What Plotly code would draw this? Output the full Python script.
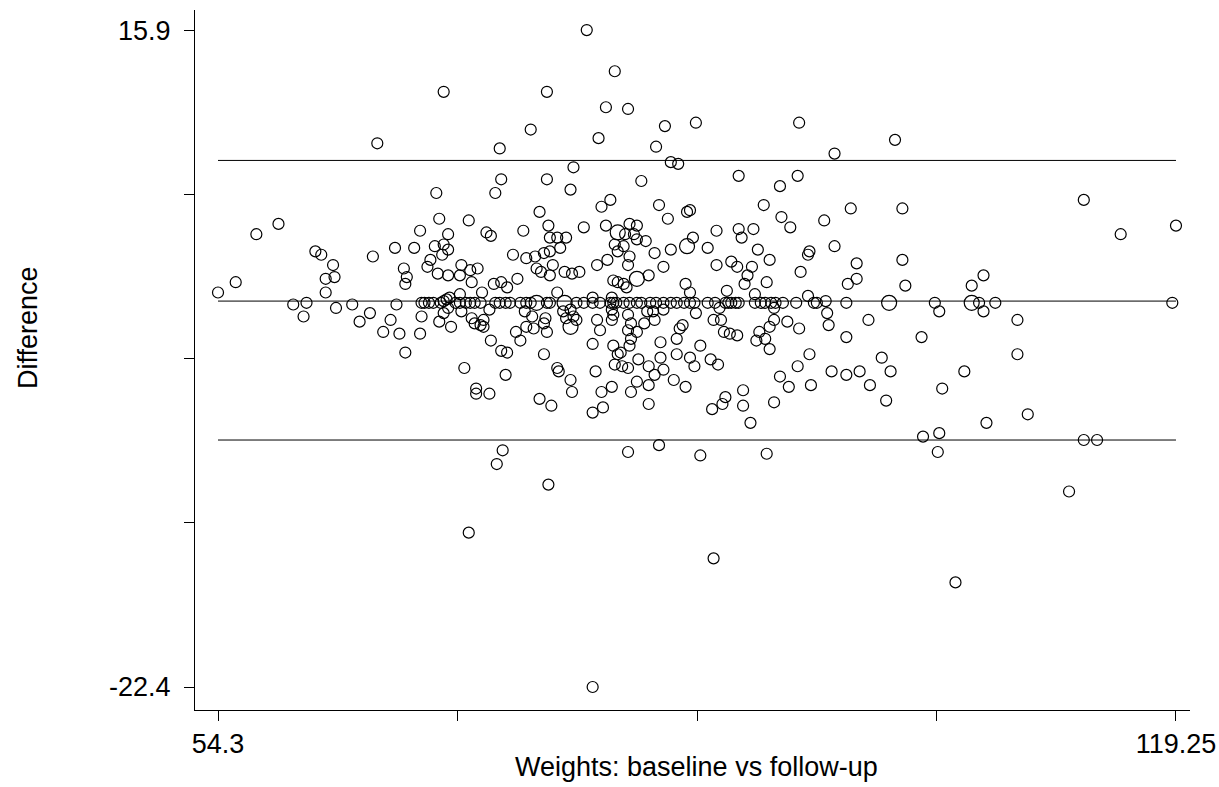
import plotly.graph_objects as go

# ---- Data (mean weight, difference) ----
left_x = [54.3, 55.5, 56.9, 58.4, 59.4, 60.3, 60.1, 60.9, 61.3, 62.1,
          61.6, 62.2, 61.6, 62.3, 63.4, 63.9, 64.6, 64.8, 65.1, 66.3,
          67.6, 66.9, 67.1, 67.0, 66.4, 66.0, 65.5, 66.6, 68.0, 67.0,
          68.1, 68.1, 68.3, 68.6, 68.9, 69.4, 69.6, 69.8, 70.0, 69.3,
          69.6, 69.9, 70.1, 68.7, 68.5, 69.2, 69.9, 69.0, 69.6, 69.9,
          69.5, 69.6, 69.1, 69.3, 68.0, 69.9]
left_y = [0.6, 1.2, 4.0, 4.6, -0.1, 0.0, -0.8, 3.0, 2.8, 2.2,
          1.4, 1.5, 0.6, -0.3, -0.1, -1.1, -0.6, 2.7, 9.3, 3.2,
          3.2, 2.0, 1.5, 1.1, -0.1, -1.0, -1.7, -1.8, -1.8, -2.9,
          -0.8, 0.0, 0.0, 0.0, 0.0, 0.0, 0.1, 0.2, 0.3, -1.1,
          -0.6, -0.3, -1.4, 2.5, 2.1, 1.7, 1.6, 3.3, 3.4, 3.1,
          2.8, 12.3, 6.4, 4.9, 4.2, 4.0]

top_mid_x = [79.3, 81.2, 76.6, 80.6, 82.1, 75.5, 80.1, 84.6, 86.7, 84.0,
             73.4, 85.0, 85.5, 78.4, 73.5, 76.6, 73.1, 78.2, 83.0, 80.9,
             80.3, 84.2, 84.8, 86.1, 86.3, 76.1, 71.3, 76.7, 75.0, 72.5,
             72.8, 79.1, 80.6, 82.2, 82.7, 81.9, 82.5, 76.8, 77.3, 77.9,
             82.7, 83.3, 86.5, 85.0]
top_mid_y = [15.9, 13.5, 12.3, 11.4, 11.3, 10.1, 9.6, 10.3, 10.5, 9.1,
             9.0, 8.2, 8.1, 7.9, 7.2, 7.2, 6.4, 6.6, 7.1, 6.0,
             5.6, 5.7, 4.9, 5.3, 5.4, 5.3, 4.8, 4.5, 4.2, 4.1,
             3.9, 4.4, 4.5, 4.6, 4.5, 4.0, 4.0, 3.8, 3.8, 3.8,
             3.7, 3.6, 3.8, 3.1]

top_right_x = [93.7, 100.2, 96.1, 89.6, 93.6, 92.4, 91.3, 97.2, 100.7, 92.5,
               95.4, 93.1, 88.1, 89.6, 90.6, 89.8, 87.5, 90.9, 96.1]
top_right_y = [10.5, 9.5, 8.7, 7.4, 7.4, 6.8, 5.7, 5.5, 5.5, 5.0,
               4.8, 4.4, 4.2, 4.3, 4.3, 3.8, 3.2, 3.1, 3.3]

far_right_x = [113.0, 115.5, 119.25, 119.0, 106.2, 105.4, 105.9, 107.0, 102.9, 103.2,
               106.2, 108.5, 108.5, 104.9, 103.4, 109.2, 106.4, 103.2, 102.1, 113.0,
               113.9, 103.1, 112.0, 104.3]
far_right_y = [6.0, 4.0, 4.5, 0.0, 1.6, 1.0, 0.0, 0.0, 0.0, -0.5,
               -0.5, -1.0, -3.0, -4.0, -5.0, -6.5, -7.0, -7.6, -7.8, -8.0,
               -8.0, -8.7, -11.0, -16.3]

right_x = [91.7, 94.3, 94.4, 100.7, 97.6, 88.1, 89.1, 89.5, 90.5, 93.8,
           90.2, 90.0, 91.5, 97.6, 97.0, 100.9, 88.8, 90.7, 94.3,
           86.6, 87.5, 88.0, 88.7, 88.9, 89.1, 89.4, 89.6, 90.7, 91.1,
           91.4, 91.8, 92.1, 92.6, 93.5, 94.7, 94.9, 96.9, 95.5,
           86.7, 88.3, 92.0, 87.9, 88.4, 92.0, 92.9, 95.6, 95.7, 98.4,
           93.7, 91.7, 88.6, 89.0, 89.5, 91.0, 90.8, 91.4, 91.7, 96.9,
           102.0, 87.0, 94.4, 99.3, 87.7, 88.2, 93.6, 95.9, 96.9, 97.8,
           99.9, 92.4, 93.0, 94.5, 98.5, 89.9, 88.7, 88.5, 87.8, 89.9,
           92.0, 99.6, 90.4, 87.0, 91.5, 87.9]
right_y = [2.5, 2.8, 3.0, 2.5, 2.3, 2.2, 2.4, 2.1, 2.1, 1.8,
           1.6, 1.1, 1.2, 1.4, 1.1, 1.0, 0.7, 0.5, 0.4,
           0.0, 0.0, 0.0, 0.0, 0.0, 0.0, 0.0, 0.0, 0.0, 0.0,
           0.0, 0.0, 0.0, 0.0, 0.0, 0.0, 0.0, 0.0, 0.1,
           -0.6, -0.3, -0.3, -1.0, -1.0, -1.0, -1.1, -0.6, -1.3, -1.0,
           -1.5, -1.4, -1.7, -1.8, -1.9, -1.7, -2.2, -2.1, -2.7, -2.0,
           -2.0, -2.5, -3.0, -3.2, -3.3, -3.6, -3.7, -4.0, -4.2, -4.0,
           -4.0, -4.3, -4.9, -4.8, -4.8, -5.1, -5.5, -5.9, -6.2, -6.0,
           -5.8, -5.7, -7.0, -8.9, -8.8, -14.9]

centre_up_x = [74.3, 75.2, 75.8, 76.4, 76.8, 77.5, 70.8, 71.4, 71.9, 70.7,
               75.9, 76.2, 76.8, 77.0, 77.8, 78.3, 78.8, 71.5, 73.0, 73.5,
               73.9, 74.6, 72.2, 70.7, 77.3, 80.0, 80.7, 81.4, 81.8, 82.2,
               82.1, 81.2, 83.9, 81.1, 81.4, 81.8, 83.5, 84.5, 82.0, 86.0,
               86.3, 79.7, 81.0]
centre_up_y = [2.8, 2.6, 2.7, 2.9, 3.0, 3.2, 2.2, 1.9, 2.0, 1.6,
               2.0, 1.8, 1.6, 2.2, 1.8, 1.7, 1.8, 1.2, 1.1, 1.2,
               0.9, 1.4, 0.6, 0.5, 0.6, 2.2, 2.5, 3.0, 3.3, 2.7,
               2.2, 3.4, 2.9, 1.3, 1.2, 1.1, 1.6, 2.1, 0.9, 1.1,
               0.6, 0.3, 0.3]

centre_zero_x = [70.4, 70.7, 71.1, 71.4, 71.7, 72.1, 73.1, 73.4, 73.8, 74.1,
                 74.8, 75.2, 75.5, 76.6, 76.8, 78.6, 79.1, 79.7, 80.2, 80.9,
                 81.1, 81.3, 81.8, 82.2, 82.7, 83.0, 83.6, 84.0, 84.5, 85.0,
                 85.4, 85.9, 86.3]
centre_zero_y = [0.0, 0.0, 0.0, 0.0, 0.0, 0.0, 0.0, 0.0, 0.0, 0.0,
                 0.0, 0.0, 0.0, 0.0, 0.0, 0.0, 0.0, 0.0, 0.0, 0.0,
                 0.0, 0.0, 0.0, 0.0, 0.0, 0.0, 0.0, 0.0, 0.0, 0.0,
                 0.0, 0.0, 0.0]

centre_low_x = [70.8, 72.7, 71.5, 71.7, 72.3, 72.3, 72.1, 75.1, 75.6, 76.5,
                76.4, 75.2, 75.7, 76.6, 74.5, 74.8, 72.8, 77.7, 78.2, 78.4,
                77.9, 78.6, 80.0, 80.2, 79.7, 81.0, 81.1, 81.0, 82.1, 82.3,
                82.1, 82.7, 82.3, 83.2, 83.9, 83.4, 83.8, 84.5, 85.6, 85.8,
                85.4, 84.3, 82.2, 81.1, 81.6, 81.4, 81.2, 81.7, 82.1, 82.8,
                83.5, 84.3, 84.5, 83.9, 82.7, 83.5, 85.2, 86.0, 86.3, 86.6,
                85.4, 82.3, 81.0, 80.3, 79.9, 83.5, 80.4, 79.7, 76.4, 77.3,
                77.4, 78.2, 78.3, 73.5, 73.9, 71.0, 73.8, 71.8, 71.8, 72.7,
                76.1, 76.9, 73.6, 73.2, 82.1, 84.2, 76.7, 71.3, 79.7]
centre_low_y = [-0.5, -0.4, -0.9, -1.2, -1.0, -1.4, -1.3, -0.5, -0.8, -0.9,
                -1.2, -1.4, -1.5, -1.7, -1.7, -2.2, -2.2, -0.5, -0.4, -0.8,
                -0.9, -1.0, -1.0, -1.6, -2.4, -0.4, -0.7, -1.0, -0.7, -1.2,
                -1.6, -1.7, -2.1, -1.2, -1.0, -0.5, -0.5, -0.4, -1.5, -1.3,
                -2.1, -2.3, -2.5, -2.5, -2.9, -3.0, -3.6, -3.7, -3.8, -3.3,
                -3.7, -3.2, -3.9, -4.2, -4.6, -4.8, -4.5, -4.9, -3.2, -3.7,
                -3.0, -5.2, -4.9, -5.2, -4.0, -5.9, -6.1, -6.4, -3.0, -3.8,
                -4.0, -4.5, -5.2, -2.8, -2.9, -3.8, -4.2, -5.0, -5.3, -5.3,
                -5.6, -6.0, -8.6, -9.4, -8.7, -8.3, -10.6, -13.4, -22.4]

# tied observations (drawn with larger circles)
tied_x = [81.4, 86.1, 105.4, 99.8, 82.7, 75.9, 77.8, 78.2]
tied_y = [4.1, 3.3, 0.0, 0.0, 1.4, 0.0, 0.0, -1.4]

mean_diff = 0.1
upper_loa = 8.3
lower_loa = -8.0

x_ticks = [54.3, 70.5375, 86.775, 103.0125, 119.25]
x_tick_labels = ["54.3", "", "", "", "119.25"]
y_ticks = [15.9, 6.325, -3.25, -12.825, -22.4]
y_tick_labels = ["15.9", "", "", "", "-22.4"]

all_x = (left_x + top_mid_x + top_right_x + far_right_x + right_x
         + centre_up_x + centre_zero_x + centre_low_x)
all_y = (left_y + top_mid_y + top_right_y + far_right_y + right_y
         + centre_up_y + centre_zero_y + centre_low_y)

fig = go.Figure()

x_min, x_max = x_ticks[0], x_ticks[-1]
for level in [upper_loa, mean_diff, lower_loa]:
    fig.add_trace(go.Scatter(x=[x_min, x_max], y=[level, level], mode="lines",
                             line=dict(color="black", width=1), hoverinfo="skip"))

fig.add_trace(go.Scatter(x=all_x, y=all_y, mode="markers",
                         marker=dict(symbol="circle-open", size=11, color="black",
                                     line=dict(width=1.2))))
fig.add_trace(go.Scatter(x=tied_x, y=tied_y, mode="markers",
                         marker=dict(symbol="circle-open", size=15, color="black",
                                     line=dict(width=1.2))))

font_family = "Liberation Sans, Arial, Helvetica, sans-serif"
fig.update_layout(
    width=1219, height=787,
    margin=dict(l=195, r=29, t=10, b=77, autoexpand=False),
    plot_bgcolor="white", paper_bgcolor="white",
    showlegend=False,
    font=dict(family=font_family, size=27, color="black"),
)
fig.update_xaxes(range=[52.74, 120.2], tickvals=x_ticks, ticktext=x_tick_labels,
                 ticks="outside", ticklen=10, tickcolor="black", tickwidth=1,
                 automargin=False,
                 showline=True, linecolor="black", linewidth=1,
                 showgrid=False, zeroline=False)
fig.update_yaxes(range=[-23.74, 17.07], tickvals=y_ticks, ticktext=y_tick_labels,
                 ticks="outside", ticklen=10, tickcolor="black", tickwidth=1,
                 ticklabelstandoff=8, automargin=False,
                 showline=True, linecolor="black", linewidth=1,
                 showgrid=False, zeroline=False)

fig.add_annotation(text="Weights: baseline vs follow-up", xref="paper", yref="paper",
                   x=0.5045, y=-0.0814, xanchor="center", yanchor="middle",
                   showarrow=False, font=dict(size=27))
fig.add_annotation(text="Difference", xref="paper", yref="paper",
                   x=-0.168, y=0.547, xanchor="center", yanchor="middle",
                   textangle=-90, showarrow=False, font=dict(size=27))

fig.write_html("out.html",
               config={"displayModeBar": False},
               post_script="document.body.style.margin='0';"
                           "document.body.style.overflow='hidden';")
